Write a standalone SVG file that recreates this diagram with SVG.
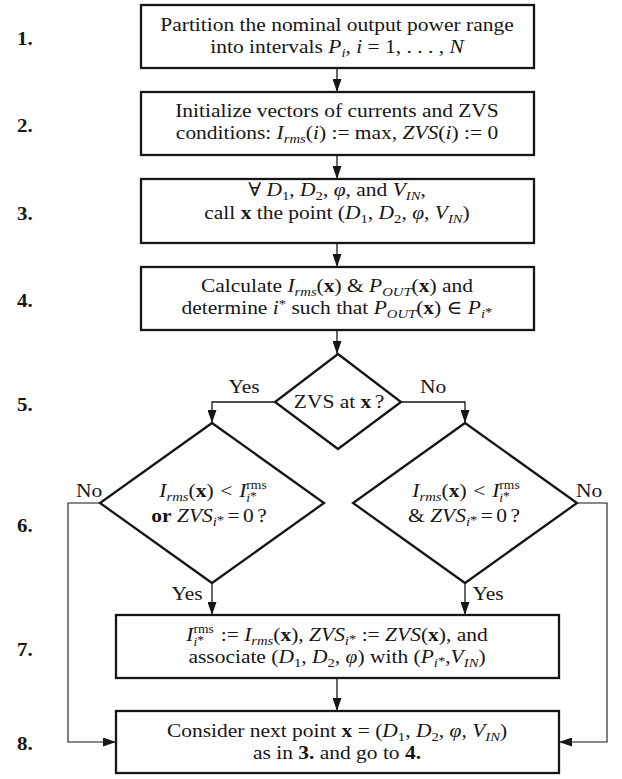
<svg xmlns="http://www.w3.org/2000/svg" width="622" height="779" viewBox="0 0 622 779">
<defs>
<style>
.t{font-family:"Liberation Serif","DejaVu Serif",serif;font-size:19px;fill:#161616;text-anchor:middle}
.n{font-family:"Liberation Serif","DejaVu Serif",serif;font-size:19px;font-weight:bold;fill:#161616}
.i{font-style:italic}
.b{font-weight:bold}
.s{font-size:13px}
.u{font-size:12px}
.box{fill:#fff;stroke:#161616;stroke-width:2.3}
.c{fill:none;stroke:#161616;stroke-width:1.3}
.l{fill:none;stroke:#161616;stroke-width:1.1}
</style>
<marker id="ah" viewBox="0 0 13 9" refX="13" refY="4.5" markerWidth="13" markerHeight="9" orient="auto" markerUnits="userSpaceOnUse"><path d="M0,0 L13,4.5 L0,9 z" fill="#161616"/></marker>
</defs>
<rect width="622" height="779" fill="#fff"/>

<g id="steps">
<text class="n" transform="translate(17,45) scale(1.1,1)">1.</text>
<text class="n" transform="translate(17,132) scale(1.1,1)">2.</text>
<text class="n" transform="translate(17,220) scale(1.1,1)">3.</text>
<text class="n" transform="translate(17,307) scale(1.1,1)">4.</text>
<text class="n" transform="translate(17,411) scale(1.1,1)">5.</text>
<text class="n" transform="translate(17,532) scale(1.1,1)">6.</text>
<text class="n" transform="translate(17,656) scale(1.1,1)">7.</text>
<text class="n" transform="translate(17,750) scale(1.1,1)">8.</text>
</g>

<g id="connectors">
<path class="c" d="M337,68 V92" marker-end="url(#ah)"/>
<path class="c" d="M337,155 V179" marker-end="url(#ah)"/>
<path class="c" d="M337,243 V267" marker-end="url(#ah)"/>
<path class="c" d="M337,330 V354" marker-end="url(#ah)"/>
<path class="c" d="M275,402 H212 V423" marker-end="url(#ah)"/>
<path class="c" d="M401,402 H465 V423" marker-end="url(#ah)"/>
<path class="c" d="M212,583 V615" marker-end="url(#ah)"/>
<path class="c" d="M465,583 V615" marker-end="url(#ah)"/>
<path class="l" d="M100,503 H68 V742 H116" marker-end="url(#ah)"/>
<path class="l" d="M577,503 H607 V742 H559" marker-end="url(#ah)"/>
<path class="c" d="M337,678 V711" marker-end="url(#ah)"/>
<text class="t" transform="translate(244,393) scale(1.13,1)">Yes</text>
<text class="t" transform="translate(433,393) scale(1.13,1)">No</text>
<text class="t" transform="translate(89,497) scale(1.13,1)">No</text>
<text class="t" transform="translate(589,497) scale(1.13,1)">No</text>
<text class="t" transform="translate(187,600) scale(1.13,1)">Yes</text>
<text class="t" transform="translate(488,600) scale(1.13,1)">Yes</text>
</g>

<g id="n1">
<rect class="box" x="141" y="5" width="393" height="63"/>
<text class="t" transform="translate(337,31) scale(1.13,1)">Partition the nominal output power range</text>
<text class="t" transform="translate(337,53) scale(1.13,1)">into intervals <tspan class="i">P</tspan><tspan class="i s" baseline-shift="-4">i</tspan>, <tspan class="i">i</tspan> = 1, . . . , <tspan class="i">N</tspan></text>
</g>

<g id="n2">
<rect class="box" x="141" y="92" width="393" height="63"/>
<text class="t" transform="translate(337,117) scale(1.13,1)">Initialize vectors of currents and ZVS</text>
<text class="t" transform="translate(337,139) scale(1.13,1)">conditions: <tspan class="i">I</tspan><tspan class="i s" baseline-shift="-4">rms</tspan>(<tspan class="i">i</tspan>) := max, <tspan class="i">ZVS</tspan>(<tspan class="i">i</tspan>) := 0</text>
</g>

<g id="n3">
<rect class="box" x="141" y="179" width="393" height="64"/>
<text class="t" transform="translate(337,196) scale(1.13,1)">∀ <tspan class="i">D</tspan><tspan class="s" baseline-shift="-4">1</tspan>, <tspan class="i">D</tspan><tspan class="s" baseline-shift="-4">2</tspan>, <tspan class="i">φ</tspan>, and <tspan class="i">V</tspan><tspan class="i s" baseline-shift="-4">IN</tspan>,</text>
<text class="t" transform="translate(337,219) scale(1.13,1)">call <tspan class="b">x</tspan> the point (<tspan class="i">D</tspan><tspan class="s" baseline-shift="-4">1</tspan>, <tspan class="i">D</tspan><tspan class="s" baseline-shift="-4">2</tspan>, <tspan class="i">φ</tspan>, <tspan class="i">V</tspan><tspan class="i s" baseline-shift="-4">IN</tspan>)</text>
</g>

<g id="n4">
<rect class="box" x="141" y="267" width="393" height="63"/>
<text class="t" transform="translate(337,292) scale(1.13,1)">Calculate <tspan class="i">I</tspan><tspan class="i s" baseline-shift="-4">rms</tspan>(<tspan class="b">x</tspan>) &amp; <tspan class="i">P</tspan><tspan class="i s" baseline-shift="-4">OUT</tspan>(<tspan class="b">x</tspan>) and</text>
<text class="t" transform="translate(337,314) scale(1.13,1)">determine <tspan class="i">i</tspan><tspan class="s" baseline-shift="6">*</tspan> such that <tspan class="i">P</tspan><tspan class="i s" baseline-shift="-4">OUT</tspan>(<tspan class="b">x</tspan>) ∈ <tspan class="i">P</tspan><tspan class="i s" baseline-shift="-4">i</tspan><tspan class="s" baseline-shift="-2">*</tspan></text>
</g>

<g id="n5">
<polygon class="box" points="338,354 401,402 338,449 275,402"/>
<text class="t" transform="translate(339,408) scale(1.13,1)">ZVS at <tspan class="b">x</tspan><tspan dx="3">?</tspan></text>
</g>

<g id="n6a">
<polygon class="box" points="212,423 324,503 212,583 100,503"/>
<text class="t" transform="translate(213,497) scale(1.13,1)"><tspan class="i">I</tspan><tspan class="i s" baseline-shift="-4">rms</tspan>(<tspan class="b">x</tspan>)<tspan dx="6">&lt;</tspan><tspan class="i" dx="6">I</tspan><tspan class="u" baseline-shift="8">rms</tspan><tspan class="i u" dx="-18" baseline-shift="-5">i</tspan><tspan class="u" baseline-shift="-3">*</tspan><tspan dx="10"></tspan></text>
<text class="t" transform="translate(209,522) scale(1.13,1)"><tspan class="b">or</tspan> <tspan class="i">ZVS</tspan><tspan class="i s" baseline-shift="-4">i</tspan><tspan class="s" baseline-shift="-2">*</tspan><tspan dx="3">=</tspan><tspan dx="3">0</tspan><tspan dx="3">?</tspan></text>
</g>

<g id="n6b">
<polygon class="box" points="465,423 577,503 465,583 353,503"/>
<text class="t" transform="translate(466,497) scale(1.13,1)"><tspan class="i">I</tspan><tspan class="i s" baseline-shift="-4">rms</tspan>(<tspan class="b">x</tspan>)<tspan dx="6">&lt;</tspan><tspan class="i" dx="6">I</tspan><tspan class="u" baseline-shift="8">rms</tspan><tspan class="i u" dx="-18" baseline-shift="-5">i</tspan><tspan class="u" baseline-shift="-3">*</tspan><tspan dx="10"></tspan></text>
<text class="t" transform="translate(464,522) scale(1.13,1)">&amp; <tspan class="i">ZVS</tspan><tspan class="i s" baseline-shift="-4">i</tspan><tspan class="s" baseline-shift="-2">*</tspan><tspan dx="3">=</tspan><tspan dx="3">0</tspan><tspan dx="3">?</tspan></text>
</g>

<g id="n7">
<rect class="box" x="116" y="615" width="443" height="63"/>
<text class="t" transform="translate(337,641) scale(1.13,1)"><tspan class="i">I</tspan><tspan class="u" baseline-shift="8">rms</tspan><tspan class="i u" dx="-18" baseline-shift="-5">i</tspan><tspan class="u" baseline-shift="-3">*</tspan><tspan dx="10"> := </tspan><tspan class="i">I</tspan><tspan class="i s" baseline-shift="-4">rms</tspan>(<tspan class="b">x</tspan>), <tspan class="i">ZVS</tspan><tspan class="i s" baseline-shift="-4">i</tspan><tspan class="s" baseline-shift="-2">*</tspan> := <tspan class="i">ZVS</tspan>(<tspan class="b">x</tspan>), and</text>
<text class="t" transform="translate(337,663) scale(1.13,1)">associate (<tspan class="i">D</tspan><tspan class="s" baseline-shift="-4">1</tspan>, <tspan class="i">D</tspan><tspan class="s" baseline-shift="-4">2</tspan>, <tspan class="i">φ</tspan>) with (<tspan class="i">P</tspan><tspan class="i s" baseline-shift="-4">i</tspan><tspan class="s" baseline-shift="-2">*</tspan>,<tspan class="i">V</tspan><tspan class="i s" baseline-shift="-4">IN</tspan>)</text>
</g>

<g id="n8">
<rect class="box" x="116" y="711" width="443" height="62"/>
<text class="t" transform="translate(337,737) scale(1.13,1)">Consider next point <tspan class="b">x</tspan> = (<tspan class="i">D</tspan><tspan class="s" baseline-shift="-4">1</tspan>, <tspan class="i">D</tspan><tspan class="s" baseline-shift="-4">2</tspan>, <tspan class="i">φ</tspan>, <tspan class="i">V</tspan><tspan class="i s" baseline-shift="-4">IN</tspan>)</text>
<text class="t" transform="translate(337,759) scale(1.13,1)">as in <tspan class="b">3.</tspan> and go to <tspan class="b">4.</tspan></text>
</g>
</svg>
